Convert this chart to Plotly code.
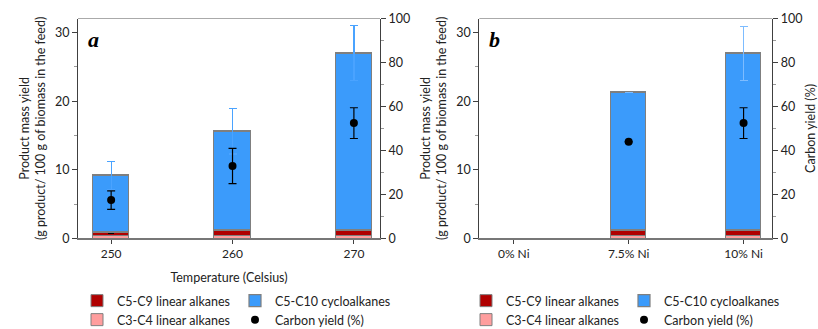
import plotly.graph_objects as go

# ---------------- data ----------------
temps = ["250", "260", "270"]
a_c3c4 = [0.35, 0.48, 0.48]
a_c5c9 = [0.50, 0.69, 0.69]
a_cyclo = [8.28, 14.43, 25.83]
a_cyclo_err = [2.07, 3.3, 4.0]
a_c5c9_err = [0.15, 0.05, 0.03]
a_carbon = [17.4, 32.9, 52.4]
a_carbon_err = [4.2, 8.0, 7.0]

ni = ["0% Ni", "7.5% Ni", "10% Ni"]
b_c3c4 = [None, 0.48, 0.48]
b_c5c9 = [None, 0.72, 0.69]
b_cyclo = [None, 20.05, 25.83]
b_cyclo_err = [None, None, 3.95]
b_c5c9_err = [None, None, 0.03]
b_carbon = [None, 43.9, 52.4]
b_carbon_err = [None, None, 7.0]

names = ["C5-C9 linear alkanes", "C5-C10 cycloalkanes", "C3-C4 linear alkanes", "Carbon yield (%)"]

RED = "#b00000"
BLUE = "#3b9bfb"
PINK = "#ff9e9e"
EDGE = "#7f7f7f"
FONT = "Lato"

fig = go.Figure()


def add_panel(cats, c3, c5, cy, cy_err, c5_err, cb, cb_err, xa, ya, ya2, legs, errcol):
    fig.add_trace(go.Bar(x=cats, y=c3, name=names[2], marker=dict(color=PINK, line=dict(color=EDGE, width=1)),
                         width=0.3, xaxis=xa, yaxis=ya, legend=legs[1], legendrank=1))
    fig.add_trace(go.Bar(x=cats, y=c5, name=names[0], marker=dict(color=RED, line=dict(color=EDGE, width=1)),
                         width=0.3, xaxis=xa, yaxis=ya, legend=legs[0], legendrank=1,
                         error_y=dict(type="data", array=c5_err, color="black", thickness=1, width=3)))
    fig.add_trace(go.Bar(x=cats, y=cy, name=names[1], marker=dict(color=BLUE, line=dict(color=EDGE, width=1.2)),
                         width=0.3, xaxis=xa, yaxis=ya, legend=legs[0], legendrank=2,
                         error_y=dict(type="data", array=cy_err, color=errcol, thickness=1.2, width=4)))
    fig.add_trace(go.Scatter(x=cats, y=cb, name=names[3], mode="markers",
                             marker=dict(color="black", size=8),
                             error_y=dict(type="data", array=cb_err, color="black", thickness=1.2, width=4),
                             xaxis=xa, yaxis=ya2, legend=legs[1], legendrank=2))


add_panel(temps, a_c3c4, a_c5c9, a_cyclo, a_cyclo_err, a_c5c9_err, a_carbon, a_carbon_err,
          "x", "y", "y2", ["legend", "legend2"], "#4aa3ff")
add_panel(ni, b_c3c4, b_c5c9, b_cyclo, b_cyclo_err, b_c5c9_err, b_carbon, b_carbon_err,
          "x2", "y3", "y4", ["legend3", "legend4"], "#7dbcff")

W, H = 818, 329
ydom = [1 - 238.3 / H, 1 - 18.5 / H]
axcol = "#404040"
tickf = dict(family=FONT, size=12.5, color="#222")

left_common = dict(range=[0, 32.07], tickvals=[0, 10, 20, 30], ticks="outside", ticklen=5, tickcolor=axcol,
                   showline=True, linecolor=axcol, linewidth=1, showgrid=False, zeroline=False, tickfont=tickf,
                   automargin=False,
                   minor=dict(tickvals=[5, 15, 25], ticks="outside", ticklen=3, tickcolor="#999"),
                   title=dict(text="Product mass yield<br>(g product/ 100 g of biomass in the feed)",
                              font=dict(family=FONT, size=12.5, color="#222"), standoff=6), domain=ydom)
right_common = dict(range=[0, 100], tickvals=[0, 20, 40, 60, 80, 100], ticks="outside", ticklen=5, tickcolor=axcol,
                    showline=True, linecolor=axcol, linewidth=1, showgrid=False, zeroline=False, tickfont=tickf,
                    automargin=False,
                    minor=dict(tickvals=[10, 30, 50, 70, 90], ticks="outside", ticklen=3, tickcolor="#999"),
                    side="right")
x_common = dict(type="category", ticks="outside", ticklen=4, tickcolor=axcol, showline=True, linecolor="#777",
                linewidth=1.5, showgrid=False, tickfont=dict(family=FONT, size=12, color="#222"), mirror=False,
                automargin=False)

fig.update_layout(
    width=W, height=H, margin=dict(l=0, r=0, t=0, b=0, autoexpand=False),
    paper_bgcolor="white", plot_bgcolor="white", barmode="stack", bargap=0,
    font=dict(family=FONT, size=12, color="#222"),
    xaxis=dict(x_common, domain=[78 / W, 380 / W], range=[-0.273, 2.215], anchor="y",
               title=dict(text="Temperature (Celsius)", font=dict(family=FONT, size=12.5, color="#222"), standoff=13)),
    yaxis=dict(left_common, anchor="x"),
    yaxis2=dict(right_common, overlaying="y", anchor="x"),
    xaxis2=dict(x_common, domain=[479.3 / W, 772.3 / W], range=[-0.30, 2.25], anchor="y3"),
    yaxis3=dict(left_common, anchor="x2"),
    yaxis4=dict(right_common, overlaying="y3", anchor="x2",
                title=dict(text="Carbon yield (%)", font=dict(family=FONT, size=12.5, color="#222"), standoff=8)),
    shapes=[
        dict(type="line", xref="paper", yref="paper", x0=78 / W, x1=380 / W, y0=ydom[1], y1=ydom[1],
             line=dict(color="#aaa", width=1)),
        dict(type="line", xref="paper", yref="paper", x0=479.3 / W, x1=772.3 / W, y0=ydom[1], y1=ydom[1],
             line=dict(color="#aaa", width=1)),
    ],
    annotations=[
        dict(text="<b><i>a</i></b>", xref="paper", yref="paper", x=86 / W, y=1 - 39 / H, xanchor="left",
             yanchor="middle", showarrow=False, font=dict(family="Liberation Serif", size=22, color="black")),
        dict(text="<b><i>b</i></b>", xref="paper", yref="paper", x=487 / W, y=1 - 39 / H, xanchor="left",
             yanchor="middle", showarrow=False, font=dict(family="Liberation Serif", size=22, color="black")),
    ],
)

leg = dict(orientation="h", entrywidth=113, entrywidthmode="pixels", font=dict(family=FONT, size=12.5, color="#222"),
           bgcolor="rgba(0,0,0,0)", yanchor="middle", xanchor="left", itemwidth=30, tracegroupgap=0,
           traceorder="normal")
fig.update_layout(
    legend=dict(leg, x=77 / W, y=1 - 301 / H),
    legend2=dict(leg, x=77 / W, y=1 - 320 / H),
    legend3=dict(leg, x=466 / W, y=1 - 301 / H),
    legend4=dict(leg, x=466 / W, y=1 - 320 / H),
)

fig.write_html("out.html", config={"displayModeBar": False},
               post_script="document.body.style.margin='0';document.body.style.overflow='hidden';")
